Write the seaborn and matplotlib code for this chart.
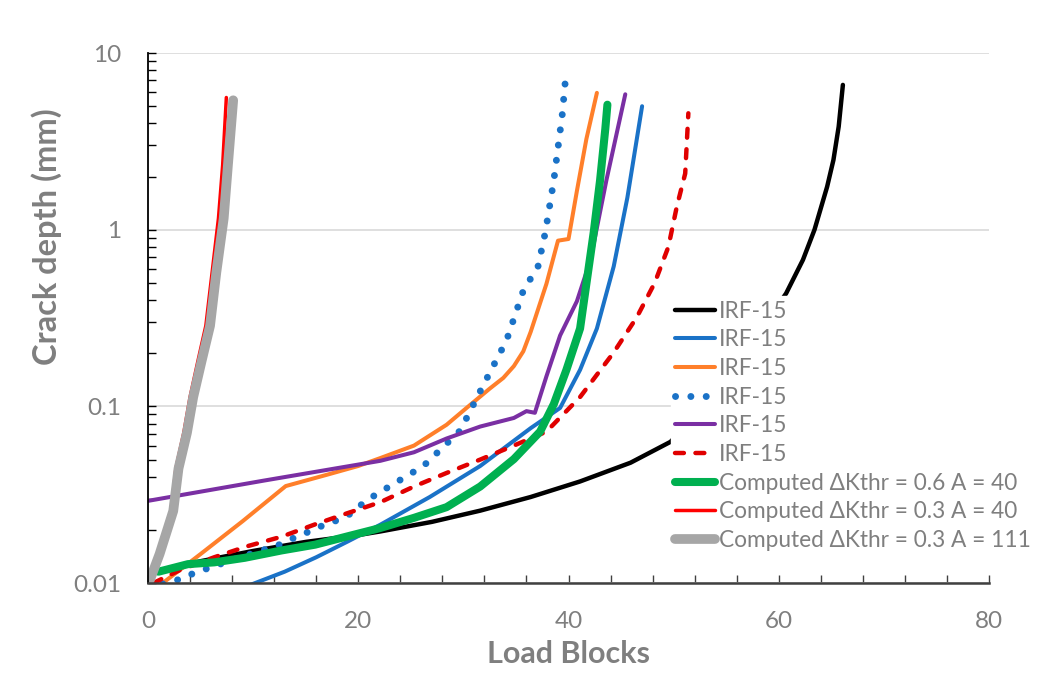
import numpy as np
import pandas as pd
import matplotlib
matplotlib.use("Agg")
import matplotlib.pyplot as plt
import seaborn as sns
from matplotlib.ticker import LogLocator, FuncFormatter, MultipleLocator, NullFormatter

sns.set_style("white")
plt.rcParams['font.family'] = ['Lato', 'DejaVu Sans']

# --- data (Load Blocks, Crack depth mm) ---
black_x = [0, 5, 10, 15, 20, 22.1, 27, 31.6, 36.4, 41.1, 45.9, 49.7, 53, 56.5, 60.7, 62.3, 63.4, 64.6, 65.2, 65.7, 66.1]
black_y = [0.0113, 0.0133, 0.0152, 0.0171, 0.0187, 0.0196, 0.0222, 0.0257, 0.0307, 0.0376, 0.048, 0.063, 0.1, 0.19, 0.436, 0.675, 1.0, 1.75, 2.48, 3.83, 6.6]

blue_x = [9.8, 13, 16, 19, 22.1, 26.8, 31.6, 36.4, 39.2, 41.1, 42.7, 44.3, 45.6, 47.0]
blue_y = [0.0098, 0.0116, 0.0140, 0.0172, 0.0214, 0.0307, 0.046, 0.0753, 0.098, 0.161, 0.276, 0.62, 1.52, 5.0]

orange_x = [1.2, 5, 9, 13.1, 17, 20, 22.1, 25.3, 28.4, 30.3, 32.5, 33.8, 34.8, 35.7, 36.4, 37.9, 39.0, 40.0, 40.8, 41.7, 42.7]
orange_y = [0.0098, 0.0146, 0.0224, 0.0354, 0.041, 0.046, 0.051, 0.060, 0.0787, 0.098, 0.126, 0.145, 0.169, 0.205, 0.264, 0.494, 0.867, 0.886, 1.66, 3.26, 5.95]

dotted_x = [1.4, 3.0, 4.4, 7.5, 10.5, 12.2, 13.6, 15.0, 16.4, 18.1, 19.5, 20.6, 22.1, 26.2, 29.7, 31.9, 34.1, 35.7, 37.1, 37.8, 38.6, 39.4, 39.7]
dotted_y = [0.0099, 0.0105, 0.0114, 0.0132, 0.0151, 0.0162, 0.0177, 0.0192, 0.0209, 0.0228, 0.0251, 0.0289, 0.0328, 0.046, 0.073, 0.132, 0.236, 0.452, 0.62, 0.97, 1.9, 4.46, 6.98]

purple_x = [0, 11, 22.1, 25.3, 28.4, 31.6, 34.8, 36.0, 36.8, 37.9, 39.2, 40.8, 42.1, 43.6, 45.4]
purple_y = [0.0292, 0.038, 0.0492, 0.055, 0.0658, 0.0769, 0.086, 0.094, 0.092, 0.148, 0.252, 0.394, 0.678, 1.9, 5.84]

dashed_x = [0.5, 3.1, 6.3, 9.5, 12.7, 15.9, 19.0, 22.1, 25.3, 28.4, 31.6, 34.8, 37.9, 41.1, 44.3, 46.5, 48.2, 49.5, 50.3, 51.1, 51.4]
dashed_y = [0.0100, 0.0119, 0.0140, 0.0162, 0.0183, 0.0215, 0.0249, 0.0287, 0.0352, 0.042, 0.050, 0.060, 0.072, 0.113, 0.202, 0.32, 0.50, 0.80, 1.35, 2.08, 4.56]

green_x = [1.0, 3.8, 6.3, 9.2, 12.7, 15.9, 19.0, 22.1, 25.3, 28.4, 31.6, 34.8, 37.3, 38.6, 39.8, 41.1, 41.7, 42.4, 43.0, 43.5, 43.7]
green_y = [0.0116, 0.0128, 0.0131, 0.0139, 0.0153, 0.0165, 0.0184, 0.0205, 0.0234, 0.0269, 0.0352, 0.0503, 0.072, 0.103, 0.161, 0.276, 0.494, 0.97, 1.9, 3.72, 5.1]

red_x = [0, 1.0, 2.2, 2.65, 3.4, 4.0, 4.75, 5.5, 6.1, 6.7, 7.1, 7.45]
red_y = [0.0100, 0.0146, 0.0256, 0.0445, 0.0708, 0.113, 0.181, 0.286, 0.575, 1.16, 2.32, 5.6]

gray_x = [0.2, 1.1, 2.4, 2.9, 3.7, 4.3, 5.1, 5.9, 6.5, 7.2, 7.6, 8.1]
gray_y = [0.0105, 0.0146, 0.0256, 0.0445, 0.0708, 0.113, 0.181, 0.286, 0.575, 1.16, 2.32, 5.4]

labels = ["IRF-15"] * 6 + ["Computed \u0394Kthr = 0.6 A = 40",
                           "Computed \u0394Kthr = 0.3 A = 40",
                           "Computed \u0394Kthr = 0.3 A = 111"]

series = [
    (black_x, black_y, dict(color="black", lw=3.2, ls="-", solid_capstyle="round")),
    (blue_x, blue_y, dict(color="#1a72c7", lw=2.9, ls="-", solid_capstyle="round")),
    (orange_x, orange_y, dict(color="#ff7f2a", lw=2.9, ls="-", solid_capstyle="round")),
    (dotted_x, dotted_y, dict(color="#1a72c7", lw=5.0, ls=(0, (0.01, 2.2)), dash_capstyle="round")),
    (purple_x, purple_y, dict(color="#7a2fa3", lw=2.9, ls="-", solid_capstyle="round")),
    (dashed_x, dashed_y, dict(color="#e00000", lw=3.2, ls=(0, (2.0, 2.6)), dash_capstyle="round")),
    (green_x, green_y, dict(color="#00b050", lw=5.8, ls="-", solid_capstyle="round")),
    (red_x, red_y, dict(color="#ff0000", lw=2.5, ls="-")),
    (gray_x, gray_y, dict(color="#a6a6a6", lw=7.0, ls="-", solid_capstyle="round")),
]

fig = plt.figure(figsize=(10.38, 6.78), dpi=100)
ax = fig.add_axes([0.1426, 0.140, 0.8102, 0.7818])

for (xs, ys, style), lab in zip(series, labels):
    df = pd.DataFrame({"x": xs, "y": ys})
    sns.lineplot(data=df, x="x", y="y", ax=ax, sort=False, estimator=None,
                 label=lab, **style)

ax.set_yscale("log")
ax.set_xlim(0, 80)
ax.set_ylim(0.01, 10)

ax.xaxis.set_major_locator(MultipleLocator(20))
ax.xaxis.set_minor_locator(MultipleLocator(4))
ax.yaxis.set_major_locator(LogLocator(base=10))
ax.yaxis.set_minor_locator(LogLocator(base=10, subs=np.arange(2, 10)))
ax.yaxis.set_major_formatter(FuncFormatter(lambda v, p: "%g" % v))
ax.yaxis.set_minor_formatter(NullFormatter())

ax.grid(axis="y", which="major", color="#d9d9d9", lw=1.2)
ax.grid(axis="x", visible=False)

for s in ["top", "right"]:
    ax.spines[s].set_visible(False)
ax.spines["left"].set_color("black")
ax.spines["left"].set_linewidth(1.3)
ax.spines["bottom"].set_color("#404040")
ax.spines["bottom"].set_linewidth(1.8)

ax.tick_params(which="both", left=True, bottom=True, direction="in", length=6,
               width=1.0, color="black", labelcolor="#7f7f7f", labelsize=17.5)
ax.tick_params(axis="x", which="both", color="#404040")
ax.tick_params(axis="y", pad=19)
ax.tick_params(axis="x", pad=20)

ax.set_xlabel("Load Blocks", fontsize=22, fontweight="bold", color="#7f7f7f", labelpad=6)
ax.set_ylabel("Crack depth (mm)", fontsize=23.5, fontweight="bold", color="#7f7f7f")
ax.yaxis.set_label_coords(-0.102, 0.653)

leg = ax.legend(loc="upper left", bbox_to_anchor=(0.646, 0.5634), bbox_transform=fig.transFigure,
                frameon=True, fontsize=16.3, handlelength=1.78, handletextpad=0.15,
                labelspacing=0.34, borderpad=0.2, borderaxespad=0)
leg.get_frame().set_edgecolor("white")
leg.get_frame().set_facecolor("white")
leg.get_frame().set_alpha(1)
for t in leg.get_texts():
    t.set_color("#7f7f7f")

fig.savefig("out.png", dpi=100)
